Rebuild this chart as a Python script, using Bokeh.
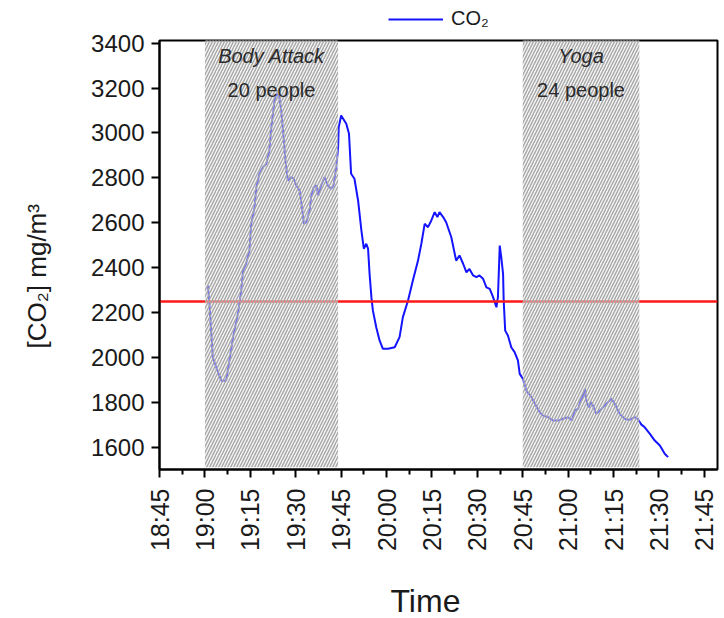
import pandas as pd
from math import pi

from bokeh.plotting import figure
from bokeh.layouts import column
from bokeh.models import (Range1d, FixedTicker, DatetimeTickFormatter, Legend,
                          LegendItem, ColumnDataSource, Title)
from bokeh.core.properties import value
from bokeh.embed import file_html
from bokeh.resources import INLINE

# ---- data -------------------------------------------------------------
DAY = "2019-03-12"

# minutes after 19:00 and CO2 concentration in mg/m3
minutes_after_19 = [
    1.0, 1.5, 2.6, 3.7, 5.4, 7.0, 8.1, 9.3, 10.9, 12.0, 12.6, 13.6, 14.7, 15.3,
    16.4, 17.0, 18.0, 19.2, 20.3, 21.3, 21.9, 23.0, 23.6, 24.5, 25.2, 26.0,
    26.6, 27.4, 28.5, 29.3, 30.2, 31.3, 32.2, 32.7, 33.5, 34.6, 35.1, 35.9,
    36.8, 37.5, 38.4, 39.5, 40.6, 41.7, 42.5, 43.4, 44.0, 44.2,
    45.0, 46.7, 47.6, 48.3, 49.4, 50.6, 51.7, 52.5, 53.3, 53.9, 54.4, 55.0,
    55.5, 56.6, 57.7, 58.8, 60.5, 62.7, 64.3, 65.4, 67.1, 68.7, 70.4, 71.5,
    72.6, 73.7, 74.8, 75.9, 76.8, 77.5, 78.7, 79.7, 81.4, 83.0, 84.1, 85.3,
    86.4, 87.4, 88.6, 89.7, 90.7, 91.9, 93.0, 94.1, 95.2, 96.3, 96.8, 97.4,
    97.9, 98.5, 98.7, 99.2, 100.1,
    101.2, 102.3, 103.4, 104.0, 105.1, 106.2, 107.9, 109.0, 110.6, 111.7,
    113.4, 115.0, 116.7, 118.3, 120.0, 121.3, 122.1, 123.3, 124.1, 124.9,
    125.5, 126.0, 126.8, 127.4, 128.2, 129.3, 131.0, 132.6, 134.3, 135.4,
    137.0, 138.7, 140.3, 142.0, 142.9, 144.2, 145.3, 147.0, 148.6, 150.3,
    151.9, 153.0,
]
co2_mg_m3 = [
    2320, 2238, 2000, 1956, 1896, 1896, 1986, 2090, 2194, 2298, 2387, 2417,
    2476, 2595, 2669, 2758, 2818, 2847, 2862, 2922, 3019, 3145, 3175, 3167,
    3100, 2981, 2877, 2788, 2803, 2796, 2766, 2743, 2654, 2595, 2602, 2654,
    2714, 2758, 2766, 2721, 2766, 2803, 2766, 2751, 2766, 2847, 2936, 3025,
    3078, 3041, 2996, 2818, 2796, 2699, 2565, 2484, 2506, 2484, 2372, 2268,
    2208, 2134, 2075, 2038, 2038, 2045, 2090, 2179, 2253, 2342, 2431, 2506,
    2595, 2580, 2610, 2647, 2625, 2647, 2625, 2602, 2535, 2431, 2454, 2417,
    2379, 2394, 2365, 2357, 2365, 2350, 2312, 2305, 2268, 2223, 2268, 2498,
    2446, 2372, 2253, 2119, 2097,
    2045, 2023, 1986, 1926, 1904, 1852, 1822, 1793, 1755, 1740,
    1733, 1718, 1718, 1726, 1733, 1718, 1763, 1770, 1807, 1830,
    1859, 1807, 1777, 1800, 1785, 1748, 1770, 1793, 1815, 1793,
    1748, 1726, 1721, 1733, 1726, 1700, 1688, 1659, 1629, 1607,
    1570, 1555,
]

THRESHOLD = 2250  # mg/m3

sessions = ["Body Attack", "Yoga"]
attendance = ["20 people", "24 people"]
session_start = ["19:00:00", "20:45:00"]
session_end = ["19:44:00", "21:23:30"]

x_tick_times = ["18:45", "19:00", "19:15", "19:30", "19:45", "20:00", "20:15",
                "20:30", "20:45", "21:00", "21:15", "21:30", "21:45"]
y_ticks = [1600, 1800, 2000, 2200, 2400, 2600, 2800, 3000, 3200, 3400]


def at(clock):
    return pd.Timestamp(f"{DAY} {clock}")


def ms(ts):
    return ts.value / 1e6


times = at("19:00") + pd.to_timedelta(minutes_after_19, unit="min")
starts = [at(s) for s in session_start]
ends = [at(e) for e in session_end]
mids = [a + (b - a) / 2 for a, b in zip(starts, ends)]

FONT = "Liberation Sans"
INK = "#1a1a1a"
CO2_BLUE = "#1414ff"
KEY_H = 29

# ---- main figure ------------------------------------------------------
p = figure(
    width=724, height=618 - KEY_H, output_backend="svg", toolbar_location=None,
    x_axis_type="datetime",
    x_range=Range1d(at("18:45"), at("21:49:20")),
    y_range=Range1d(1500, 3412),
    min_border_left=159, min_border_right=7, min_border_top=40 - KEY_H,
    min_border_bottom=149,
)
p.background_fill_color = "white"
p.border_fill_color = "white"
p.grid.visible = False
p.outline_line_color = "black"
p.outline_line_width = 2

# CO2 trace
p.line(times, co2_mg_m3, line_color=CO2_BLUE, line_width=2)

# threshold
p.hspan(y=[THRESHOLD], line_color="#ff1a1a", line_width=2.5)

# activity periods, hatched over the traces
band_src = ColumnDataSource(dict(left=starts, right=ends,
                                 name=sessions, people=attendance, mid=mids))
p.quad(left="left", right="right", bottom=1510, top=3500, source=band_src,
       fill_color="#e8e8e8", fill_alpha=0.45, line_color=None,
       hatch_pattern="/", hatch_color="#a6a6a6", hatch_alpha=1.0,
       hatch_scale=6, hatch_weight=1.4)

p.text(x="mid", y=3345, text="name", source=band_src,
       text_font=value(FONT), text_font_style="italic",
       text_font_size="20px", text_color="#2a2a2a",
       text_align="center", text_baseline="middle")
p.text(x="mid", y=3190, text="people", source=band_src,
       text_font=value(FONT), text_font_size="20px", text_color="#2a2a2a",
       text_align="center", text_baseline="middle")

# ---- axes -------------------------------------------------------------
xa = p.xaxis[0]
xa.ticker = FixedTicker(
    ticks=[ms(at(t)) for t in x_tick_times],
    minor_ticks=[ms(at(t)) + 7.5 * 60000 for t in x_tick_times],
)
fmt = "%H:%M"
xa.formatter = DatetimeTickFormatter(
    microseconds=fmt, milliseconds=fmt, seconds=fmt, minsec=fmt,
    minutes=fmt, hourmin=fmt, hours=fmt, days=fmt, months=fmt, years=fmt,
)
xa.major_label_orientation = pi / 2

ya = p.yaxis[0]
ya.ticker = FixedTicker(ticks=y_ticks, minor_ticks=[])

for ax in (xa, ya):
    ax.axis_line_color = "black"
    ax.axis_line_width = 2
    ax.major_tick_line_color = "black"
    ax.major_tick_line_width = 2
    ax.minor_tick_line_color = "black"
    ax.minor_tick_line_width = 2
    ax.major_tick_out = 8
    ax.major_tick_in = 0
    ax.minor_tick_out = 5
    ax.minor_tick_in = 0
    ax.major_label_text_font = FONT
    ax.major_label_text_color = INK
xa.major_label_text_font_size = "25px"
ya.major_label_text_font_size = "24px"
xa.major_label_standoff = 11
ya.major_label_standoff = 7

# axis titles: an empty spacer panel, then the title itself
p.add_layout(Title(text=" ", text_font_size="1px", standoff=34), "left")
p.add_layout(Title(text="[CO₂] mg/m³", align="left", offset=121, standoff=0,
                   text_font=FONT, text_font_size="26px",
                   text_font_style="normal", text_color=INK), "left")
p.add_layout(Title(text=" ", text_font_size="1px", standoff=23), "below")
p.add_layout(Title(text="Time", align="left", offset=231, standoff=0,
                   text_font=FONT, text_font_size="32px",
                   text_font_style="normal", text_color=INK), "below")

# ---- legend strip above the frame (frames are aligned by the column) ---
key = figure(width=724, height=KEY_H, output_backend="svg",
             toolbar_location=None,
             x_range=Range1d(0, 1), y_range=Range1d(0, 1),
             x_axis_location=None, y_axis_location=None,
             min_border_left=0, min_border_right=0, min_border_top=0,
             min_border_bottom=0)
key.outline_line_color = None
key.grid.visible = False
key_line = key.line([float("nan")], [float("nan")],
                    line_color=CO2_BLUE, line_width=2)
key.add_layout(Legend(items=[LegendItem(label="CO₂", renderers=[key_line])],
                      location=(229, -1), orientation="horizontal",
                      border_line_color=None, background_fill_alpha=0,
                      margin=0, padding=0, glyph_width=55, glyph_height=20,
                      label_standoff=8, label_text_font=FONT,
                      label_text_font_size="20px", label_text_color=INK),
               "center")

layout = column(key, p, spacing=0)
open("out.html", "w").write(file_html(layout, INLINE))
